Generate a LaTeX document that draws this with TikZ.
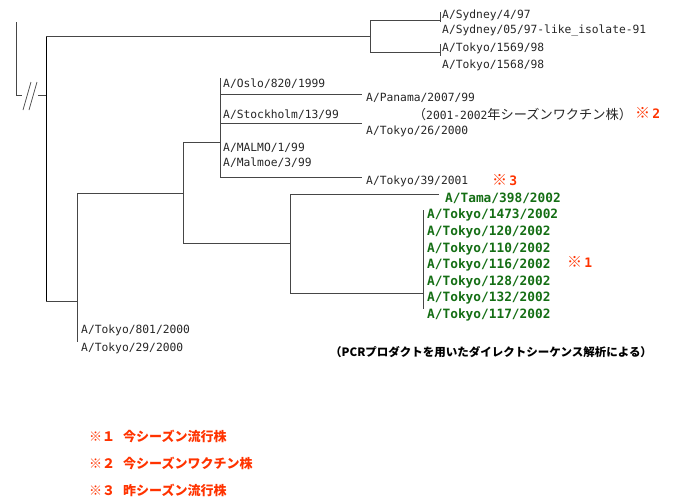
\documentclass[tikz,border=0pt]{standalone}
\usepackage{fontspec}
\setmainfont{DejaVu Sans Mono}
\newfontfamily\jp{Noto Sans CJK JP}
\definecolor{grn}{RGB}{20,110,20}
\definecolor{rd}{RGB}{255,51,0}
\definecolor{ln}{RGB}{70,70,70}
\begin{document}
\begin{tikzpicture}[x=1pt,y=-1pt,
  br/.style={draw=ln,line width=0.9pt},
  lbl/.style={anchor=west,inner sep=0pt,text=black!85,font=\fontsize{11.3}{13}\selectfont},
  glbl/.style={anchor=west,inner sep=0pt,text=grn,font=\bfseries\fontsize{12.8}{14}\selectfont},
  rmark/.style={anchor=west,inner sep=0pt,text=rd,font=\bfseries\fontsize{13}{14}\selectfont},
  leg/.style={anchor=west,inner sep=0pt,text=rd,font=\jp\bfseries\fontsize{13}{14}\selectfont}]
\path[use as bounding box] (0,0) rectangle (675,499);
% coordinates
\coordinate (s0) at (16,22);
\coordinate (s1) at (16,95);
\coordinate (s2) at (22,95);
\coordinate (s3) at (38,95);
\coordinate (rj) at (46,95);
\coordinate (rT) at (46,36);
\coordinate (rB) at (46,301);
\coordinate (aM) at (370,36);
\coordinate (aT) at (370,20);
\coordinate (aB) at (370,52);
\coordinate (a1) at (440,20);
\coordinate (a1t) at (440,12);
\coordinate (a1b) at (440,22);
\coordinate (a2) at (440,52);
\coordinate (a2t) at (440,44);
\coordinate (a2b) at (440,56);
\coordinate (bM) at (77,301);
\coordinate (bT) at (77,193);
\coordinate (bB) at (77,342);
\coordinate (cM) at (183,193);
\coordinate (cT) at (183,142);
\coordinate (cB) at (183,243);
\coordinate (dM) at (220,142);
\coordinate (dT) at (220,78);
\coordinate (dB) at (220,177);
\coordinate (d1) at (220,94);
\coordinate (d1e) at (362,94);
\coordinate (d2) at (220,123);
\coordinate (d2e) at (362,123);
\coordinate (d3e) at (362,177);
\coordinate (eM) at (290,243);
\coordinate (eT) at (290,194);
\coordinate (eB) at (290,293);
\coordinate (eTe) at (439,194);
\coordinate (fM) at (423,293);
\coordinate (fT) at (423,210);
\coordinate (fB) at (423,309);
% branches
\draw[br] (s0) -- (s1) -- (s2);
\draw[br] (s3) -- (rj);
\draw[draw=ln,line width=0.7pt] (23,110) -- (31,82);
\draw[draw=ln,line width=0.7pt] (29,110) -- (37,82);
\draw[draw=black,line width=0.9pt] (rT) -- (rB);
\draw[br] (rT) -- (aM);
\draw[br] (aT) -- (aB);
\draw[br] (aT) -- (a1);
\draw[br] (aB) -- (a2);
\draw[br] (a1t) -- (a1b);
\draw[br] (a2t) -- (a2b);
\draw[br] (rB) -- (bM);
\draw[br] (bT) -- (bB);
\draw[br] (bT) -- (cM);
\draw[br] (cT) -- (cB);
\draw[br] (cT) -- (dM);
\draw[br] (dT) -- (dB);
\draw[br] (d1) -- (d1e);
\draw[br] (d2) -- (d2e);
\draw[br] (dB) -- (d3e);
\draw[br] (cB) -- (eM);
\draw[br] (eT) -- (eB);
\draw[br] (eT) -- (eTe);
\draw[br] (eB) -- (fM);
\draw[br] (fT) -- (fB);
% labels
\node[lbl] (l1) at (442,15) {A/Sydney/4/97};
\node[lbl] (l2) at (442,31) {A/Sydney/05/97-like\_isolate-91};
\node[lbl] (l3) at (442,48) {A/Tokyo/1569/98};
\node[lbl] (l4) at (442,65) {A/Tokyo/1568/98};
\node[lbl] (l5) at (223,84) {A/Oslo/820/1999};
\node[lbl] (l6) at (223,115) {A/Stockholm/13/99};
\node[lbl] (l7) at (223,148) {A/MALMO/1/99};
\node[lbl] (l8) at (223,163) {A/Malmoe/3/99};
\node[lbl] (l9) at (366,98) {A/Panama/2007/99};
\node[lbl] (l10) at (413,114) {{\jp\fontsize{13}{14}\selectfont （}2001-2002{\jp\fontsize{13.2}{14}\selectfont 年シーズンワクチン株）}};
\node[rmark] (m2) at (635,113) {{\jp\fontsize{15}{16}\selectfont ※}\,2};
\node[lbl] (l11) at (366,131) {A/Tokyo/26/2000};
\node[lbl] (l12) at (366,181) {A/Tokyo/39/2001};
\node[rmark] (m3) at (492,180) {{\jp\fontsize{15}{16}\selectfont ※}\,3};
\node[glbl] (g0) at (445,198) {A/Tama/398/2002};
\node[glbl] (g1) at (427,215) {A/Tokyo/1473/2002};
\node[glbl] (g2) at (427,232) {A/Tokyo/120/2002};
\node[glbl] (g3) at (427,249) {A/Tokyo/110/2002};
\node[glbl] (g4) at (427,265) {A/Tokyo/116/2002};
\node[glbl] (g5) at (427,282) {A/Tokyo/128/2002};
\node[glbl] (g6) at (427,298) {A/Tokyo/132/2002};
\node[glbl] (g7) at (427,315) {A/Tokyo/117/2002};
\node[rmark] (m1) at (567,262) {{\jp\fontsize{15}{16}\selectfont ※}\,1};
\node[lbl] (l13) at (81,330) {A/Tokyo/801/2000};
\node[lbl] (l14) at (81,348) {A/Tokyo/29/2000};
\node[anchor=west,inner sep=0pt,font=\jp\bfseries\fontsize{11.5}{13}\selectfont] (pcr) at (330,352) {（PCRプロダクトを用いたダイレクトシーケンス解析による）};
\node[leg] (k1) at (89,436) {※１\hspace{8pt}今シーズン流行株};
\node[leg] (k2) at (89,463) {※２\hspace{8pt}今シーズンワクチン株};
\node[leg] (k3) at (89,490) {※３\hspace{8pt}昨シーズン流行株};
\end{tikzpicture}
\end{document}
